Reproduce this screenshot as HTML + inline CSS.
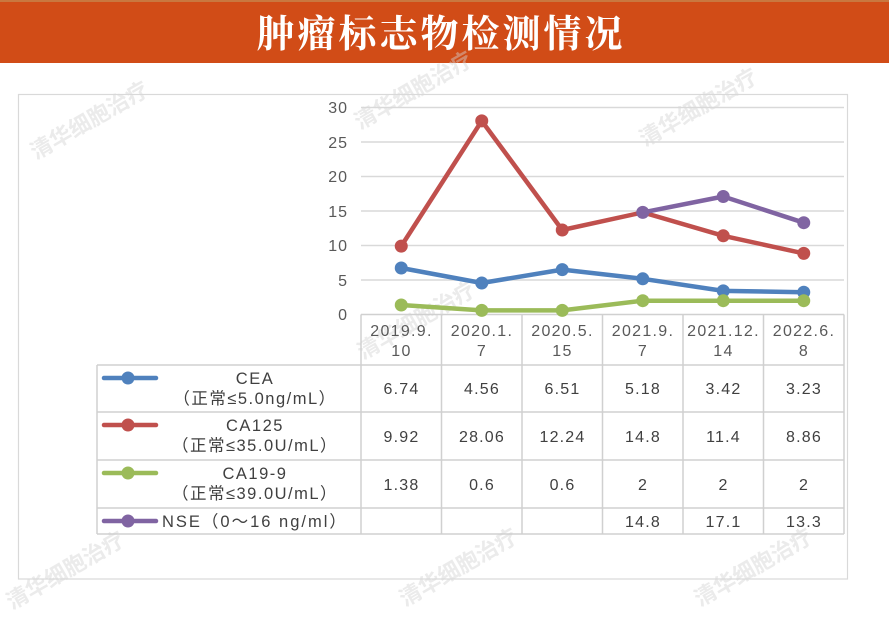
<!DOCTYPE html>
<html><head><meta charset="utf-8"><style>
html,body{margin:0;padding:0;background:#fff;}
svg{display:block;}
text{font-family:"Liberation Sans","Noto Sans CJK SC",sans-serif;}
</style></head><body>
<svg width="889" height="630" viewBox="0 0 889 630" xmlns="http://www.w3.org/2000/svg">
<rect x="0" y="0" width="889" height="630" fill="#fff"/>
<!-- header -->
<rect x="0" y="0" width="889" height="3" fill="#c9773f"/>
<rect x="0" y="2" width="889" height="61" fill="#d14c17"/>
<text x="441" y="47" text-anchor="middle" font-size="38" fill="#fff" letter-spacing="3" style="font-family:'Noto Serif CJK SC','Noto Sans CJK SC',serif;font-weight:700">肿瘤标志物检测情况</text>

<!-- watermarks -->
<g font-size="22" font-weight="bold" fill="#d2d2d2" fill-opacity="0.45" style="font-family:'Noto Sans CJK SC',sans-serif">
<text transform="translate(36,160) rotate(-30)">清华细胞治疗</text>
<text transform="translate(360,130) rotate(-30)">清华细胞治疗</text>
<text transform="translate(645,147) rotate(-30)">清华细胞治疗</text>
<text transform="translate(363,360) rotate(-30)">清华细胞治疗</text>
<text transform="translate(405,607) rotate(-30)">清华细胞治疗</text>
<text transform="translate(700,607) rotate(-30)">清华细胞治疗</text>
<text transform="translate(12,610) rotate(-30)">清华细胞治疗</text>
</g>

<!-- chart border -->
<rect x="18.5" y="94.5" width="829" height="484.5" fill="none" stroke="#d9d9d9" stroke-width="1.2"/>

<!-- gridlines -->
<g stroke="#d9d9d9" stroke-width="1.5">
<line x1="361" y1="107.5" x2="844" y2="107.5"/>
<line x1="361" y1="142" x2="844" y2="142"/>
<line x1="361" y1="176.5" x2="844" y2="176.5"/>
<line x1="361" y1="211" x2="844" y2="211"/>
<line x1="361" y1="245.5" x2="844" y2="245.5"/>
<line x1="361" y1="280" x2="844" y2="280"/>
</g>

<!-- y labels -->
<g font-size="16" fill="#595959" text-anchor="end" letter-spacing="1">
<text x="348" y="113">30</text>
<text x="348" y="148">25</text>
<text x="348" y="182">20</text>
<text x="348" y="217">15</text>
<text x="348" y="251">10</text>
<text x="348" y="286">5</text>
<text x="348" y="320">0</text>
</g>

<!-- table lines -->
<g stroke="#d0d0d0" stroke-width="1.5" fill="none">
<line x1="361" y1="314.5" x2="844" y2="314.5"/>
<line x1="97" y1="365" x2="844" y2="365"/>
<line x1="97" y1="412" x2="844" y2="412"/>
<line x1="97" y1="460" x2="844" y2="460"/>
<line x1="97" y1="508" x2="844" y2="508"/>
<line x1="97" y1="534" x2="844" y2="534"/>
<line x1="97" y1="365" x2="97" y2="534"/>
<line x1="361" y1="314.5" x2="361" y2="534"/>
<line x1="441.5" y1="314.5" x2="441.5" y2="534"/>
<line x1="522" y1="314.5" x2="522" y2="534"/>
<line x1="602.5" y1="314.5" x2="602.5" y2="534"/>
<line x1="683" y1="314.5" x2="683" y2="534"/>
<line x1="763.5" y1="314.5" x2="763.5" y2="534"/>
<line x1="844" y1="314.5" x2="844" y2="534"/>
</g>

<!-- category labels -->
<g font-size="16" fill="#595959" text-anchor="middle" letter-spacing="1.3">
<text x="401.5" y="336">2019.9.</text><text x="401.5" y="356">10</text>
<text x="482" y="336">2020.1.</text><text x="482" y="356">7</text>
<text x="562.5" y="336">2020.5.</text><text x="562.5" y="356">15</text>
<text x="643" y="336">2021.9.</text><text x="643" y="356">7</text>
<text x="723.5" y="336">2021.12.</text><text x="723.5" y="356">14</text>
<text x="804" y="336">2022.6.</text><text x="804" y="356">8</text>
</g>

<!-- series -->
<g stroke-width="4.5" fill="none" stroke-linejoin="round" stroke-linecap="round">
<polyline stroke="#c0504d" points="401.25,246.1 481.75,120.9 562.25,230.0 642.75,212.4 723.25,235.8 803.75,253.4"/>
<polyline stroke="#4f81bd" points="401.25,268.0 481.75,283.0 562.25,269.6 642.75,278.8 723.25,290.9 803.75,292.2"/>
<polyline stroke="#9bbb59" points="401.25,305.0 481.75,310.4 562.25,310.4 642.75,300.7 723.25,300.7 803.75,300.7"/>
<polyline stroke="#8064a2" points="642.75,212.4 723.25,196.5 803.75,222.7"/>
</g>
<g>
<g fill="#c0504d"><circle cx="401.25" cy="246.1" r="6.5"/><circle cx="481.75" cy="120.9" r="6.5"/><circle cx="562.25" cy="230.0" r="6.5"/><circle cx="723.25" cy="235.8" r="6.5"/><circle cx="803.75" cy="253.4" r="6.5"/></g>
<g fill="#4f81bd"><circle cx="401.25" cy="268.0" r="6.5"/><circle cx="481.75" cy="283.0" r="6.5"/><circle cx="562.25" cy="269.6" r="6.5"/><circle cx="642.75" cy="278.8" r="6.5"/><circle cx="723.25" cy="290.9" r="6.5"/><circle cx="803.75" cy="292.2" r="6.5"/></g>
<g fill="#9bbb59"><circle cx="401.25" cy="305.0" r="6.5"/><circle cx="481.75" cy="310.4" r="6.5"/><circle cx="562.25" cy="310.4" r="6.5"/><circle cx="642.75" cy="300.7" r="6.5"/><circle cx="723.25" cy="300.7" r="6.5"/><circle cx="803.75" cy="300.7" r="6.5"/></g>
<g fill="#8064a2"><circle cx="642.75" cy="212.4" r="6.5"/><circle cx="723.25" cy="196.5" r="6.5"/><circle cx="803.75" cy="222.7" r="6.5"/></g>
</g>

<!-- legend icons -->
<g stroke-width="4.5" stroke-linecap="round">
<line x1="104" y1="378" x2="156" y2="378" stroke="#4f81bd"/><circle cx="128" cy="378" r="6.5" fill="#4f81bd"/>
<line x1="104" y1="425" x2="156" y2="425" stroke="#c0504d"/><circle cx="128" cy="425" r="6.5" fill="#c0504d"/>
<line x1="104" y1="473" x2="156" y2="473" stroke="#9bbb59"/><circle cx="128" cy="473" r="6.5" fill="#9bbb59"/>
<line x1="104" y1="521" x2="156" y2="521" stroke="#8064a2"/><circle cx="128" cy="521" r="6.5" fill="#8064a2"/>
</g>

<!-- legend text -->
<g font-size="16.5" fill="#404040" text-anchor="middle" letter-spacing="1.5">
<text x="255" y="384">CEA</text>
<text x="255" y="404">（正常≤5.0ng/mL）</text>
<text x="255" y="431">CA125</text>
<text x="255" y="451">（正常≤35.0U/mL）</text>
<text x="255" y="479">CA19-9</text>
<text x="255" y="499">（正常≤39.0U/mL）</text>
</g>
<text x="162" y="527" font-size="16.5" fill="#404040" letter-spacing="2">NSE（0～16 ng/ml）</text>

<!-- values -->
<g font-size="16" fill="#404040" text-anchor="middle" letter-spacing="1.2">
<text x="401.5" y="394">6.74</text><text x="482" y="394">4.56</text><text x="562.5" y="394">6.51</text><text x="643" y="394">5.18</text><text x="723.5" y="394">3.42</text><text x="804" y="394">3.23</text>
<text x="401.5" y="442">9.92</text><text x="482" y="442">28.06</text><text x="562.5" y="442">12.24</text><text x="643" y="442">14.8</text><text x="723.5" y="442">11.4</text><text x="804" y="442">8.86</text>
<text x="401.5" y="490">1.38</text><text x="482" y="490">0.6</text><text x="562.5" y="490">0.6</text><text x="643" y="490">2</text><text x="723.5" y="490">2</text><text x="804" y="490">2</text>
<text x="643" y="527">14.8</text><text x="723.5" y="527">17.1</text><text x="804" y="527">13.3</text>
</g>
</svg>
</body></html>
